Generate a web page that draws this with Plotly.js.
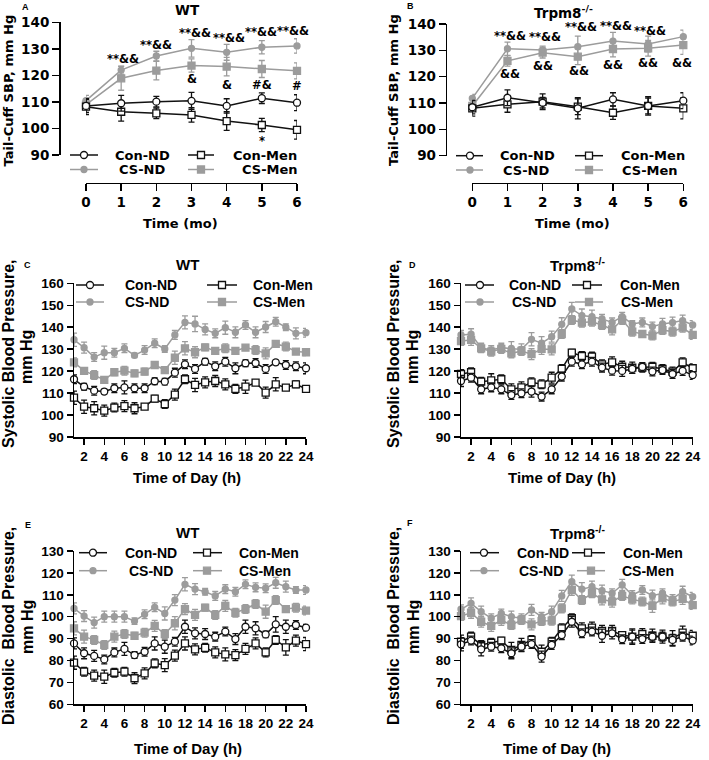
<!DOCTYPE html>
<html><head><meta charset="utf-8">
<script src="https://cdn.plot.ly/plotly-3.0.1.min.js"></script>
<style>html,body{margin:0;padding:0;background:#fff}</style>
</head><body><div id="chart" style="width:709px;height:760px"></div>
<script>
// ---------------- DATA ----------------
const seriesNames = ['Con-ND', 'Con-Men', 'CS-ND', 'CS-Men'];
const months = [0, 1, 2, 3, 4, 5, 6];
const hours = [1,2,3,4,5,6,7,8,9,10,11,12,13,14,15,16,17,18,19,20,21,22,23,24];
const monthTicks = [0, 1, 2, 3, 4, 5, 6];
const hourTicks = [2,4,6,8,10,12,14,16,18,20,22,24];

// Panel A: WT, tail-cuff SBP (mm Hg)
const A_conND = [108.5, 109.5, 110.1, 110.4, 108.5, 111.4, 109.7];
const A_conMen = [108.2, 106.3, 105.7, 105.1, 102.8, 101.3, 99.5];
const A_csND = [110.5, 122.0, 127.3, 130.2, 128.7, 130.6, 131.1];
const A_csMen = [109.0, 118.9, 121.8, 123.7, 123.3, 122.4, 121.7];
const A_conND_err = [2.5, 3.0, 2.0, 3.2, 2.7, 2.0, 3.0];
const A_conMen_err = [3.0, 3.5, 2.0, 2.7, 3.5, 2.5, 3.5];
const A_csND_err = [2.0, 1.5, 1.8, 3.3, 3.0, 2.5, 2.7];
const A_csMen_err = [2.5, 4.5, 3.5, 2.5, 3.5, 3.2, 3.0];

// Panel B: Trpm8-/-, tail-cuff SBP (mm Hg)
const B_conND = [108.4, 112.0, 110.1, 108.0, 111.4, 108.9, 110.9];
const B_conMen = [108.0, 109.5, 110.5, 108.6, 106.3, 108.9, 108.0];
const B_csND = [111.8, 130.6, 130.1, 131.4, 133.5, 132.4, 135.2];
const B_csMen = [108.9, 126.0, 129.1, 127.6, 130.5, 130.8, 132.0];
const B_conND_err = [2.5, 3.0, 2.0, 4.0, 2.5, 3.5, 3.0];
const B_conMen_err = [3.0, 3.0, 3.0, 3.0, 2.5, 3.0, 4.0];
const B_csND_err = [1.5, 2.5, 1.5, 4.0, 3.3, 3.0, 2.5];
const B_csMen_err = [2.0, 2.0, 2.0, 3.0, 3.0, 3.0, 3.5];

// Panel C: WT, systolic BP over the day (mm Hg)
const C_conND = [116.3,112.9,111.1,110.7,112.2,112.6,112.2,112.2,115.4,115.2,119.3,123.1,121.0,124.3,122.2,124.3,121.3,123.6,123.7,121.0,124.0,122.8,122.2,121.3];
const C_conMen = [107.9,103.8,103.1,102.0,103.4,104.1,103.1,103.8,107.5,105.0,109.3,116.3,113.7,114.9,115.5,114.0,111.9,112.9,114.8,110.2,114.0,112.5,114.0,111.9];
const C_csND = [134.3,130.7,126.4,128.4,128.4,130.4,127.2,129.6,132.7,130.1,136.5,142.2,141.5,139.0,137.2,139.8,137.7,141.0,137.7,140.1,142.5,140.0,137.2,137.5];
const C_csMen = [124.0,120.1,118.2,116.0,119.5,120.2,119.0,119.8,122.8,120.5,126.1,130.4,128.6,130.8,129.2,130.4,129.2,130.7,129.6,128.1,132.4,131.2,128.9,128.6];
const C_conND_err = [2,1.5,2,1,2,3,2,2,1.5,1.5,2,2,2,1.5,2,2,2.5,1.5,2,2,1,2,2,2.5];
const C_conMen_err = [3,3,3,2.5,2,2.5,2.5,1,1.5,2,2.5,2,3,2.5,2.5,2.5,2,3,1,2.5,3,1,1.5,1.5];
const C_csND_err = [3,2.5,2,3,2,2,1,2,2,1.5,2,3,3.5,2.5,2,3,2.5,2,2.5,2.5,2,1.5,2.5,2];
const C_csMen_err = [2,1.5,2,1.5,1.5,2,1.5,1.5,1.5,1.5,3,3,2.5,1.5,1.5,2,1.5,1,2,2.5,1.5,2,1,1.5];

// Panel D: Trpm8-/-, systolic BP over the day (mm Hg)
const D_conND = [115.5,117.0,111.7,112.6,111.7,109.1,109.9,110.7,108.4,111.7,117.5,124.3,123.1,124.3,121.6,120.2,120.1,121.0,121.9,119.8,120.5,118.7,120.1,118.2];
const D_conMen = [118.7,119.5,115.2,115.8,116.3,111.7,112.6,114.9,114.0,117.0,121.0,128.4,126.9,126.6,123.1,124.0,122.0,121.6,121.6,122.0,121.0,119.8,124.0,121.3];
const D_csND = [136.5,136.8,130.7,129.6,130.7,130.4,129.9,134.5,132.7,135.7,141.3,148.3,145.3,144.8,143.8,142.2,144.8,141.5,142.2,140.3,141.5,142.1,143.0,141.0];
const D_csMen = [133.7,134.2,130.4,128.9,130.1,128.1,129.2,127.7,130.1,129.9,136.9,143.3,142.1,142.5,141.0,139.0,143.3,138.0,136.9,136.2,138.7,138.0,139.8,136.5];
const D_conND_err = [2.5,2,2,2,2,2,2,2.5,2,2,2,2,2,2,2,2,2.5,2,2,2,2,2,2,2];
const D_conMen_err = [2,2,2,3,2,2.5,2.5,2,2,2.5,2,1.5,2,2,2,2.5,2.5,2.5,2,2,2,2,2,2];
const D_csND_err = [2,2.5,2,2,2,3,2.5,3,3,2.5,3,3,3,3,2,2,2,1.5,2,2,2.5,2.5,2.5,2];
const D_csMen_err = [2,2.5,2,2,2,2,2,2.5,2.5,2.5,2,2,2,2,2,2.5,2,2,1.5,2,2,2,2,2];

// Panel E: WT, diastolic BP over the day (mm Hg)
const E_conND = [87.8,83.3,82.1,80.5,83.7,85.3,82.5,84.0,87.8,86.3,88.6,95.4,92.4,92.1,90.9,93.2,89.8,95.4,94.7,91.9,96.5,95.4,96.2,95.0];
const E_conMen = [79.0,74.9,73.1,72.6,74.4,74.9,71.9,74.1,78.7,77.9,82.2,87.8,85.1,85.8,83.7,82.8,82.5,85.3,87.8,83.7,89.4,86.0,89.1,87.5];
const E_csND = [103.8,100.3,97.3,100.0,100.0,100.0,98.0,101.1,104.3,101.5,107.6,114.8,112.6,111.4,109.5,112.6,111.4,114.8,113.4,113.0,115.5,113.7,112.2,112.2];
const E_csMen = [94.7,90.9,89.4,87.1,90.9,92.1,91.3,92.7,95.8,92.1,97.0,103.5,100.8,104.1,100.8,104.9,101.8,103.5,105.8,102.3,107.6,103.5,104.1,102.8];
const E_conND_err = [2.5,2.5,2.5,2,2,3,1.5,2,3,3,2,3,2.5,2.5,2,2,2.5,3,3,1.5,3.5,3,2,1.5];
const E_conMen_err = [3,2,2.5,3,2,2,2.5,2.5,2,3,2.5,3,2.5,2,2.5,3,2.5,2.5,2.5,2,2,3.5,2.5,3];
const E_csND_err = [2.5,2.5,2.5,2.5,2.5,2.5,1.5,2,2,3,2.5,3,2.5,1.5,2,2,2,2,2,2,2.5,2.5,1.5,2];
const E_csMen_err = [3,3,2,2,2.5,2,1.5,2,2.5,2,3,2.5,2.5,1.5,2,2.5,2,2,2,3,2,1.5,2,2];

// Panel F: Trpm8-/-, diastolic BP over the day (mm Hg)
const F_conND = [87.4,89.1,85.1,86.3,85.6,83.3,86.3,87.5,81.8,87.1,91.6,97.7,92.4,93.2,91.3,92.4,89.7,90.9,89.8,90.9,90.9,89.4,90.9,89.1];
const F_conMen = [88.6,90.9,87.1,88.1,89.1,84.8,87.1,89.4,84.0,88.6,94.7,99.3,94.7,95.0,93.5,93.5,91.6,90.9,92.1,91.3,90.9,90.1,92.7,91.3];
const F_csND = [103.4,106.1,102.3,99.3,101.5,100.0,99.3,103.1,100.0,102.3,109.5,116.0,112.6,113.7,111.9,110.7,114.5,109.9,112.2,109.6,110.7,108.1,111.4,109.1];
const F_csMen = [100.3,101.8,97.7,95.8,98.5,96.2,98.5,96.5,98.0,98.2,103.8,112.2,107.6,110.7,107.9,106.9,109.5,107.9,106.9,105.0,108.4,106.9,108.1,105.3];
const F_conND_err = [3,2,3,2,2,2.5,2,2,2.5,2,2,2.5,2,2,3,2.5,2,3,2,2,2,2.5,2,2];
const F_conMen_err = [3,2,2,2,1.5,3.5,3,2,3,2,2,2,2.5,2.5,2.5,2.5,1.5,3.5,2.5,3,3,3.5,3,2.5];
const F_csND_err = [2,2.5,2.5,2,2,2.5,2,2.5,2,2.5,2.5,3,3,2.5,2.5,2,2.5,2,2,2.5,2,2,2.5,2];
const F_csMen_err = [2,2.5,2.5,2.5,2.5,2,2,2.5,2,2,2,2.5,2,2,2.5,2.5,2,2,2,3,2.5,2,2.5,2];

// ---------------- DRAWING ----------------
const W = 709, H = 760;
const px = v => v / W;
const py = v => 1 - v / H;
const BLACK = '#111111', GRAY = '#9c9c9c';
const FA = 'DejaVu Sans, Liberation Sans, Arial, sans-serif';
const FC = 'Liberation Sans, Arial, sans-serif';

const styles = {
  'Con-ND': {color: BLACK, symbol: 'circle', fill: '#ffffff', size: 7, shape: 'circle'},
  'Con-Men': {color: BLACK, symbol: 'square', fill: '#ffffff', size: 7, shape: 'rect'},
  'CS-ND': {color: GRAY, symbol: 'circle', fill: GRAY, size: 6, shape: 'circle'},
  'CS-Men': {color: GRAY, symbol: 'square', fill: GRAY, size: 7, shape: 'rect'}
};

const panels = [
  {key: 'A', ax: '', x: months, vals: [A_conND, A_conMen, A_csND, A_csMen], errs: [A_conND_err, A_conMen_err, A_csND_err, A_csMen_err]},
  {key: 'B', ax: '2', x: months, vals: [B_conND, B_conMen, B_csND, B_csMen], errs: [B_conND_err, B_conMen_err, B_csND_err, B_csMen_err]},
  {key: 'C', ax: '3', x: hours, vals: [C_conND, C_conMen, C_csND, C_csMen], errs: [C_conND_err, C_conMen_err, C_csND_err, C_csMen_err]},
  {key: 'D', ax: '4', x: hours, vals: [D_conND, D_conMen, D_csND, D_csMen], errs: [D_conND_err, D_conMen_err, D_csND_err, D_csMen_err]},
  {key: 'E', ax: '5', x: hours, vals: [E_conND, E_conMen, E_csND, E_csMen], errs: [E_conND_err, E_conMen_err, E_csND_err, E_csMen_err]},
  {key: 'F', ax: '6', x: hours, vals: [F_conND, F_conMen, F_csND, F_csMen], errs: [F_conND_err, F_conMen_err, F_csND_err, F_csMen_err]}
];

const traces = [];
const drawOrder = [3, 2, 1, 0];
panels.forEach(p => {
  drawOrder.forEach(i => {
    const name = seriesNames[i];
    const s = styles[name];
    traces.push({
      type: 'scatter', mode: 'lines+markers', name: name,
      x: p.x, y: p.vals[i],
      xaxis: 'x' + p.ax, yaxis: 'y' + p.ax,
      showlegend: false, cliponaxis: false, hoverinfo: 'skip',
      line: {color: s.color, width: 1.5},
      marker: {symbol: s.symbol, size: s.size, color: s.fill, line: {color: s.color, width: 1.3}},
      error_y: {type: 'data', array: p.errs[i], visible: true, color: s.color, thickness: 1.3, width: 3}
    });
  });
});

function axisBase(font, size) {
  return {
    showline: true, linecolor: '#000', linewidth: 1.5,
    ticks: 'outside', ticklen: 6, tickwidth: 1.5, tickcolor: '#000',
    showgrid: false, zeroline: false, fixedrange: true,
    tickfont: {family: font, size: size, color: '#000', weight: 'bold'}
  };
}

const layout = {
  width: W, height: H, autosize: false,
  margin: {l: 0, r: 0, t: 0, b: 0},
  paper_bgcolor: '#fff', plot_bgcolor: 'rgba(0,0,0,0)',
  showlegend: false, hovermode: false,
  // Panel A
  xaxis: Object.assign(axisBase(FA, 13.5), {domain: [px(86), px(297)], range: [0, 6], tickvals: monthTicks, anchor: 'free', position: py(182.5), ticklen: 7}),
  yaxis: Object.assign(axisBase(FA, 13.5), {domain: [py(155), py(22.3)], range: [90, 140], dtick: 10, anchor: 'free', position: px(59), ticklen: 7}),
  // Panel B
  xaxis2: Object.assign(axisBase(FA, 13.5), {domain: [px(472.3), px(683.3)], range: [0, 6], tickvals: monthTicks, anchor: 'free', position: py(182.7), ticklen: 7}),
  yaxis2: Object.assign(axisBase(FA, 13.5), {domain: [py(155.7), py(24)], range: [90, 140], dtick: 10, anchor: 'free', position: px(445.7), ticklen: 7}),
  // Panel C
  xaxis3: Object.assign(axisBase(FC, 13.5), {domain: [px(74), px(306)], range: [1, 24], tickvals: hourTicks, anchor: 'y3'}),
  yaxis3: Object.assign(axisBase(FC, 13.5), {domain: [py(437), py(283.3)], range: [90, 160], dtick: 10, anchor: 'x3'}),
  // Panel D
  xaxis4: Object.assign(axisBase(FC, 13.5), {domain: [px(461), px(692.7)], range: [1, 24], tickvals: hourTicks, anchor: 'y4'}),
  yaxis4: Object.assign(axisBase(FC, 13.5), {domain: [py(437), py(283.3)], range: [90, 160], dtick: 10, anchor: 'x4'}),
  // Panel E
  xaxis5: Object.assign(axisBase(FC, 13.5), {domain: [px(74), px(306)], range: [1, 24], tickvals: hourTicks, anchor: 'y5'}),
  yaxis5: Object.assign(axisBase(FC, 13.5), {domain: [py(704.3), py(551)], range: [60, 130], dtick: 10, anchor: 'x5'}),
  // Panel F
  xaxis6: Object.assign(axisBase(FC, 13.5), {domain: [px(461), px(692.7)], range: [1, 24], tickvals: hourTicks, anchor: 'y6'}),
  yaxis6: Object.assign(axisBase(FC, 13.5), {domain: [py(704.3), py(551)], range: [60, 130], dtick: 10, anchor: 'x6'}),
  annotations: [],
  shapes: []
};

function txt(x, y, text, font, size, opts) {
  layout.annotations.push(Object.assign({
    xref: 'paper', yref: 'paper', x: px(x), y: py(y), text: text, showarrow: false,
    xanchor: 'center', yanchor: 'middle',
    font: {family: font, size: size, color: '#000', weight: 'bold'}
  }, opts || {}));
}
function dtxt(ax, x, y, text, font, size, opts) {
  layout.annotations.push(Object.assign({
    xref: 'x' + ax, yref: 'y' + ax, x: x, y: y, text: text, showarrow: false,
    xanchor: 'center', yanchor: 'middle',
    font: {family: font, size: size, color: '#000', weight: 'bold'}
  }, opts || {}));
}

// Panel letters and titles
const trpm = 'Trpm8<sup>-/-</sup>';
txt(25, 7, 'A', FC, 9); txt(188, 10, 'WT', FA, 13.5);
txt(410, 6, 'B', FC, 9); txt(563, 12, trpm, FA, 13.5);
txt(27, 265, 'C', FC, 9); txt(188, 264, 'WT', FC, 15);
txt(412, 265, 'D', FC, 9); txt(577, 265, trpm, FC, 15);
txt(28, 525, 'E', FC, 9); txt(188, 532, 'WT', FC, 15);
txt(410, 523, 'F', FC, 9); txt(577, 532, trpm, FC, 15);

// Axis titles
txt(8.5, 91, 'Tail-Cuff SBP, mm Hg', FA, 13, {textangle: -90});
txt(393, 90, 'Tail-Cuff SBP, mm Hg', FA, 13, {textangle: -90});
txt(180, 223, 'Time (mo)', FA, 13);
txt(572, 223, 'Time (mo)', FA, 13);
txt(8, 354, 'Systolic Blood Pressure,', FC, 16, {textangle: -90});
txt(26, 357, 'mm Hg', FC, 16, {textangle: -90});
txt(393, 354, 'Systolic Blood Pressure,', FC, 16, {textangle: -90});
txt(412, 357, 'mm Hg', FC, 16, {textangle: -90});
txt(8, 626, 'Diastolic  Blood Pressure,', FC, 16, {textangle: -90});
txt(27, 627, 'mm Hg', FC, 16, {textangle: -90});
txt(393, 626, 'Diastolic  Blood Pressure,', FC, 16, {textangle: -90});
txt(413, 627, 'mm Hg', FC, 16, {textangle: -90});
txt(187, 478, 'Time of Day (h)', FC, 15);
txt(562, 478, 'Time of Day (h)', FC, 15);
txt(188, 748.5, 'Time of Day (h)', FC, 15);
txt(557, 748.5, 'Time of Day (h)', FC, 15);

// Legends: [lineX0, lineX1, markerX, textX, rowY, textAnchor]
const legendSpecs = [
  {font: FA, size: 13, items: [[70, 98, 84, 142, 155, 'center'], [188, 214, 201, 265, 155, 'center'], [70, 98, 84, 142, 169.5, 'center'], [188, 214, 201, 270, 169.5, 'center']]},
  {font: FA, size: 13, items: [[456, 483, 470, 527, 155.7, 'center'], [575, 603, 589, 619, 155.7, 'left'], [456, 483, 470, 526, 170, 'center'], [575, 603, 589, 620, 170, 'left']]},
  {font: FC, size: 14, items: [[76, 104, 90, 123, 285, 'left'], [207, 237, 222, 251, 285, 'left'], [76, 104, 90, 123, 302, 'left'], [207, 237, 222, 251, 302, 'left']]},
  {font: FC, size: 14, items: [[465, 494, 480, 507, 285, 'left'], [572, 602, 587, 618, 285, 'left'], [465, 494, 480, 510, 302, 'left'], [575, 603, 589, 619, 302, 'left']]},
  {font: FC, size: 14, items: [[79, 107, 93, 123, 552.7, 'left'], [193, 222, 207, 237, 552.7, 'left'], [79, 107, 93, 127, 570.7, 'left'], [193, 222, 207, 237, 570.7, 'left']]},
  {font: FC, size: 14, items: [[470, 499, 484, 515, 552.7, 'left'], [572, 605, 588, 621, 552.7, 'left'], [470, 499, 484, 517, 570.7, 'left'], [577, 605, 591, 620, 570.7, 'left']]}
];
legendSpecs.forEach(spec => {
  spec.items.forEach((it, i) => {
    const s = styles[seriesNames[i]];
    const [x0, x1, mx, tx, ry, anc] = it;
    layout.shapes.push({type: 'line', xref: 'paper', yref: 'paper', x0: px(x0), x1: px(x1), y0: py(ry), y1: py(ry), line: {color: s.color, width: 1.5}});
    const r = s.size / 2;
    layout.shapes.push({type: s.shape, xref: 'paper', yref: 'paper', xsizemode: 'pixel', ysizemode: 'pixel',
      xanchor: px(mx), yanchor: py(ry), x0: -r, x1: r, y0: -r, y1: r,
      fillcolor: s.fill, line: {color: s.color, width: 1.3}});
    txt(tx, ry, seriesNames[i], spec.font, spec.size, {xanchor: anc});
  });
});

// Significance marks
const sA = 11.5;
[[1.06, 126.2], [2.0, 131.5], [3.09, 136.0], [4.08, 134.1], [4.98, 136.4], [5.88, 136.7]].forEach(([x, y]) => dtxt('', x, y, '**&&', FA, sA));
dtxt('', 3.0, 118.6, '&', FA, sA); dtxt('', 4.02, 116.4, '&', FA, sA);
dtxt('', 5.0, 116.4, '#&', FA, sA); dtxt('', 6.0, 116.0, '#', FA, sA);
dtxt('', 5.0, 95.3, '*', FA, sA); dtxt('', 6.05, 93.8, '*&', FA, sA);
[[1.07, 135.4], [2.07, 134.9], [3.1, 139.0], [4.1, 139.2], [5.05, 137.5], [5.86, 141.5]].forEach(([x, y]) => dtxt('2', x, y, '**&&', FA, sA));
[[1.07, 121.0], [2.02, 124.2], [3.04, 122.2], [4.0, 124.4], [5.0, 125.3], [5.95, 125.3]].forEach(([x, y]) => dtxt('2', x, y, '&&', FA, sA));
dtxt('3', 24.9, 137.8, '*', FC, 13); dtxt('3', 24.9, 128.8, '#', FC, 12); dtxt('3', 24.9, 112.3, '*', FC, 13);
dtxt('4', 25.2, 141.0, '*', FC, 13);
dtxt('5', 25.2, 112.6, '*', FC, 13); dtxt('5', 25.2, 102.6, '#', FC, 12); dtxt('5', 25.2, 87.0, '*', FC, 13);
dtxt('6', 25.2, 108.5, '*', FC, 13);

Plotly.newPlot('chart', traces, layout, {displayModeBar: false, staticPlot: true});
</script>
</body></html>
